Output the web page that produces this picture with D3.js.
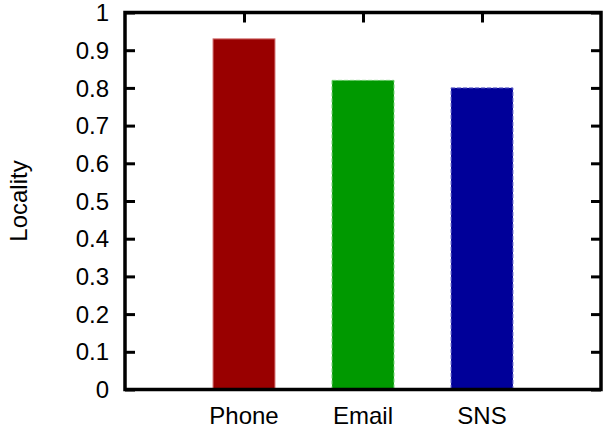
<!DOCTYPE html>
<html>
<head>
<meta charset="utf-8">
<script src="https://cdn.jsdelivr.net/npm/d3@7"></script>
<style>
  html, body { margin: 0; padding: 0; background: #fff; }
  svg text { font-family: "Liberation Sans", Arial, Helvetica, sans-serif; fill: #000; }
</style>
</head>
<body>
<svg id="chart" width="604" height="429"></svg>
<script>
// Locality by communication channel
const categories = ["Phone", "Email", "SNS"];
const values = [0.93, 0.82, 0.80];
const fills = ["#990000", "#009900", "#000099"];
const edges = ["#d06a6a", "#66cc66", "#6666cc"];
const dashed = [false, true, true];
const yTicks = [0, 0.1, 0.2, 0.3, 0.4, 0.5, 0.6, 0.7, 0.8, 0.9, 1];
const yTickLabels = ["0", "0.1", "0.2", "0.3", "0.4", "0.5", "0.6", "0.7", "0.8", "0.9", "1"];

const svg = d3.select("#chart");
const plotLeft = 125, plotRight = 601, plotTop = 12.5, plotBottom = 389.5;
const fontSize = 24;

const x = d3.scaleLinear().domain([0, 4]).range([plotLeft, plotRight]);
const y = d3.scaleLinear().domain([0, 1]).range([plotBottom, plotTop]);
const barW = (x(1) - x(0)) * 0.52;

// bars
svg.append("g").selectAll("rect")
  .data(values)
  .join("rect")
  .attr("x", (d, i) => x(i + 1) - barW / 2)
  .attr("y", d => y(d))
  .attr("width", barW)
  .attr("height", d => y(0) - y(d))
  .attr("fill", (d, i) => fills[i])
  .attr("stroke", (d, i) => edges[i])
  .attr("stroke-width", 1)
  .attr("stroke-dasharray", (d, i) => dashed[i] ? "4,2" : null);

// left axis: ticks pointing inward
const yAxisL = d3.axisRight(y).tickValues(yTicks).tickSize(10).tickFormat("");
svg.append("g").attr("transform", `translate(${plotLeft},0)`).call(yAxisL)
  .call(g => g.select(".domain").remove())
  .call(g => g.selectAll("line").attr("stroke", "#000").attr("stroke-width", 3));

// right axis mirror ticks
const yAxisR = d3.axisLeft(y).tickValues(yTicks).tickSize(10).tickFormat("");
svg.append("g").attr("transform", `translate(${plotRight},0)`).call(yAxisR)
  .call(g => g.select(".domain").remove())
  .call(g => g.selectAll("line").attr("stroke", "#000").attr("stroke-width", 3));

// top mirror ticks at category centres
const xAxisT = d3.axisBottom(x).tickValues([1, 2, 3]).tickSize(10).tickFormat("");
svg.append("g").attr("transform", `translate(0,${plotTop})`).call(xAxisT)
  .call(g => g.select(".domain").remove())
  .call(g => g.selectAll("line").attr("stroke", "#000").attr("stroke-width", 3));

// y tick labels
svg.append("g").selectAll("text")
  .data(yTicks)
  .join("text")
  .attr("x", 109)
  .attr("y", d => y(d))
  .attr("dy", "0.36em")
  .attr("text-anchor", "end")
  .attr("font-size", fontSize)
  .text((d, i) => yTickLabels[i]);

// category labels
svg.append("g").selectAll("text")
  .data(categories)
  .join("text")
  .attr("x", (d, i) => x(i + 1))
  .attr("y", 424)
  .attr("text-anchor", "middle")
  .attr("font-size", fontSize)
  .text(d => d);

// y axis title
svg.append("text")
  .attr("transform", `translate(27,${(plotTop + plotBottom) / 2}) rotate(-90)`)
  .attr("text-anchor", "middle")
  .attr("font-size", fontSize)
  .text("Locality");

// frame
svg.append("rect")
  .attr("x", plotLeft).attr("y", plotTop)
  .attr("width", plotRight - plotLeft).attr("height", plotBottom - plotTop)
  .attr("fill", "none").attr("stroke", "#000").attr("stroke-width", 3.5);
</script>
</body>
</html>
